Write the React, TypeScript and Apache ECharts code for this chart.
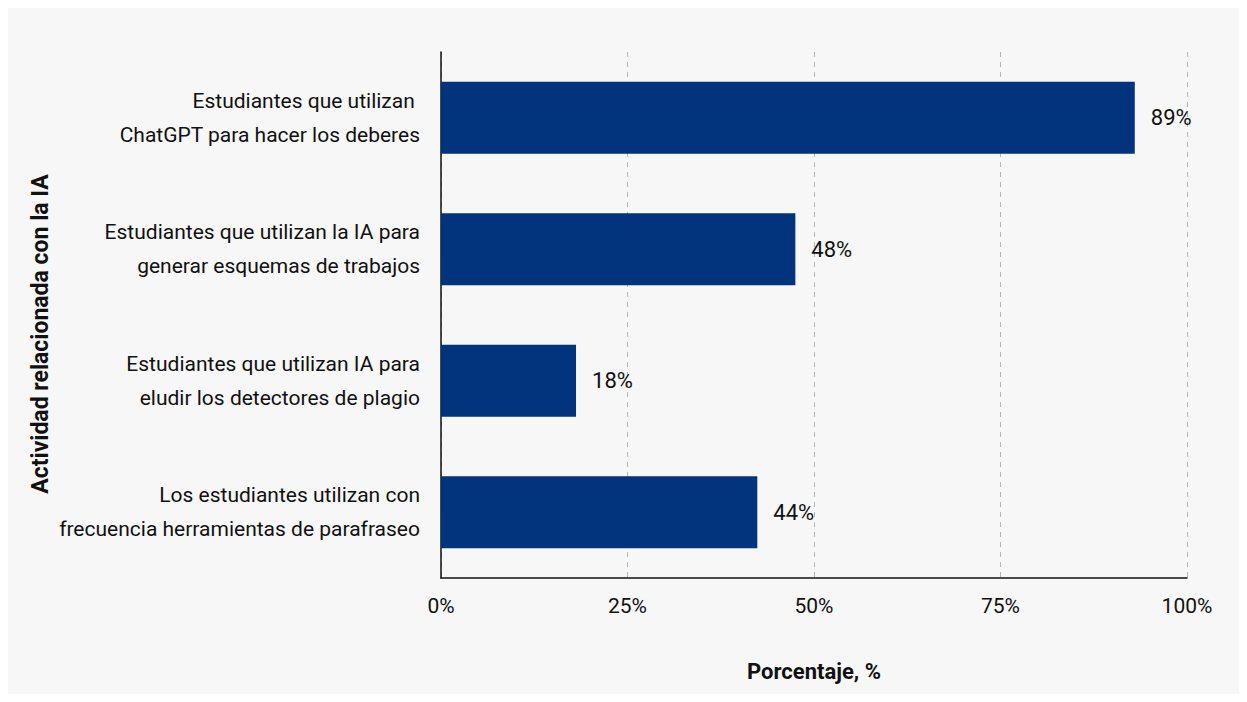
import React, { useEffect, useRef } from "react";
import * as echarts from "echarts";

const categories = [
  "Estudiantes que utilizan \nChatGPT para hacer los deberes",
  "Estudiantes que utilizan la IA para\ngenerar esquemas de trabajos",
  "Estudiantes que utilizan IA para\neludir los detectores de plagio",
  "Los estudiantes utilizan con\nfrecuencia herramientas de parafraseo",
];
// bar lengths as drawn in the picture
const barValues = [93, 47.5, 18.1, 42.4];
// value labels as printed in the picture
const valueLabels = ["89%", "48%", "18%", "44%"];
const xTicks = [0, 25, 50, 75, 100];

const FONT = "Roboto, 'Liberation Sans', sans-serif";

export default function App() {
  const ref = useRef<HTMLDivElement>(null);
  useEffect(() => {
    if (!ref.current) return;
    const chart = echarts.init(ref.current, null, { renderer: "svg" });
    chart.setOption({
      animation: false,
      backgroundColor: "#f7f7f7",
      textStyle: { fontFamily: FONT },
      grid: { left: 433, right: 52, top: 44, bottom: 116 },
      graphic: [
        {
          type: "text",
          x: 32,
          y: 326,
          rotation: Math.PI / 2,
          style: {
            text: "Actividad relacionada con la IA",
            fontFamily: FONT,
            fontSize: 23,
            fontWeight: "bold",
            fill: "#111",
            align: "center",
            verticalAlign: "middle",
          },
        },
      ],
      xAxis: {
        type: "value",
        min: xTicks[0],
        max: xTicks[xTicks.length - 1],
        interval: 25,
        name: "Porcentaje, %",
        nameLocation: "middle",
        nameGap: 82,
        nameTextStyle: { fontSize: 22, fontWeight: "bold", color: "#111", fontFamily: FONT },
        axisLine: { show: true, lineStyle: { color: "#111", width: 1.5 } },
        axisTick: { show: false },
        axisLabel: { formatter: "{value}%", fontSize: 21, color: "#111", margin: 17, fontFamily: FONT },
        splitLine: { show: true, lineStyle: { type: [5, 5], color: "#b5b5b5", width: 1 } },
      },
      yAxis: {
        type: "category",
        inverse: true,
        data: categories,
        axisLine: { show: true, lineStyle: { color: "#111", width: 1.5 } },
        axisTick: { show: false },
        axisLabel: {
          fontSize: 21,
          color: "#111",
          margin: 21,
          lineHeight: 34,
          align: "right",
          fontFamily: FONT,
        },
        splitLine: { show: false },
      },
      series: [
        {
          type: "bar",
          data: barValues,
          barWidth: 72,
          itemStyle: { color: "#02337d" },
          label: {
            show: true,
            position: "right",
            distance: 16,
            fontSize: 22,
            color: "#111",
            fontFamily: FONT,
            formatter: (p: any) => valueLabels[p.dataIndex],
          },
        },
      ],
    });
    return () => chart.dispose();
  }, []);
  return <div ref={ref} style={{ width: "100%", height: 686 }} />;
}
